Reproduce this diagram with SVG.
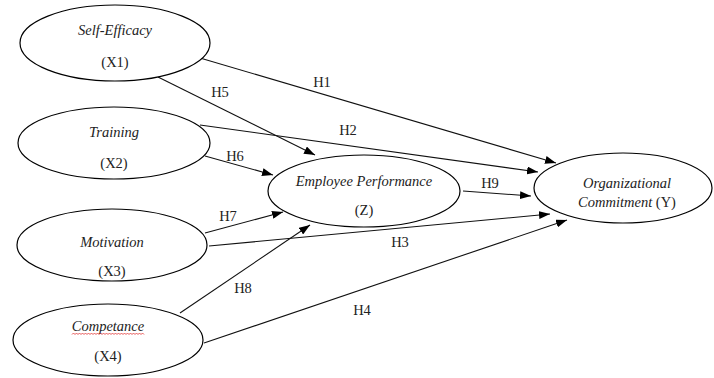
<svg xmlns="http://www.w3.org/2000/svg" width="714" height="378" viewBox="0 0 714 378">
<style>
.n{fill:#fff;stroke:#000;stroke-width:1.2}
.t{font-family:"Liberation Serif","Times New Roman",serif;font-size:14.5px;font-style:italic;fill:#222;text-anchor:middle}
.r{font-family:"Liberation Serif","Times New Roman",serif;font-size:14.5px;fill:#222;text-anchor:middle}
.c{stroke:#111;stroke-width:1.1;fill:none;marker-end:url(#ah)}
</style>
<defs>
<marker id="ah" markerUnits="userSpaceOnUse" markerWidth="11" markerHeight="8" refX="11" refY="4" orient="auto">
<path d="M0,0 L11,4 L0,8 z" fill="#000"/>
</marker>
</defs>
<rect width="714" height="378" fill="#fff"/>
<g id="connectors">
<line class="c" x1="200" y1="58" x2="556" y2="163"/>
<line class="c" x1="158" y1="77" x2="315" y2="155"/>
<line class="c" x1="200" y1="125" x2="538" y2="172"/>
<line class="c" x1="205" y1="156" x2="273" y2="175"/>
<line class="c" x1="463" y1="191" x2="531" y2="196"/>
<line class="c" x1="205" y1="233" x2="283" y2="212"/>
<line class="c" x1="209" y1="246" x2="550" y2="214"/>
<line class="c" x1="180" y1="313" x2="310" y2="225"/>
<line class="c" x1="204" y1="343" x2="567" y2="220"/>
<text class="r" x="322" y="87">H1</text>
<text class="r" x="220" y="97">H5</text>
<text class="r" x="348" y="135">H2</text>
<text class="r" x="235" y="161">H6</text>
<text class="r" x="490" y="188">H9</text>
<text class="r" x="228" y="221">H7</text>
<text class="r" x="400" y="247">H3</text>
<text class="r" x="243" y="293">H8</text>
<text class="r" x="362" y="315">H4</text>
</g>
<g id="x1">
<ellipse class="n" cx="115" cy="43" rx="95" ry="38"/>
<text class="t" x="115" y="35">Self-Efficacy</text>
<text class="r" x="115" y="67">(X1)</text>
</g>
<g id="x2">
<ellipse class="n" cx="114" cy="143" rx="96" ry="36"/>
<text class="t" x="114" y="137">Training</text>
<text class="r" x="114" y="168">(X2)</text>
</g>
<g id="x3">
<ellipse class="n" cx="112" cy="245" rx="95" ry="36"/>
<text class="t" x="112" y="247">Motivation</text>
<text class="r" x="112" y="276">(X3)</text>
</g>
<g id="x4">
<ellipse class="n" cx="108" cy="340" rx="95" ry="36"/>
<text class="t" x="108" y="331">Competance</text>
<path d="M72,334.5 l1.5,-1.5 l1.5,1.5 l1.5,-1.5 l1.5,1.5 l1.5,-1.5 l1.5,1.5 l1.5,-1.5 l1.5,1.5 l1.5,-1.5 l1.5,1.5 l1.5,-1.5 l1.5,1.5 l1.5,-1.5 l1.5,1.5 l1.5,-1.5 l1.5,1.5 l1.5,-1.5 l1.5,1.5 l1.5,-1.5 l1.5,1.5 l1.5,-1.5 l1.5,1.5 l1.5,-1.5 l1.5,1.5 l1.5,-1.5 l1.5,1.5 l1.5,-1.5 l1.5,1.5 l1.5,-1.5 l1.5,1.5 l1.5,-1.5 l1.5,1.5 l1.5,-1.5 l1.5,1.5 l1.5,-1.5 l1.5,1.5 l1.5,-1.5 l1.5,1.5 l1.5,-1.5 l1.5,1.5 l1.5,-1.5 l1.5,1.5 l1.5,-1.5 l1.5,1.5 l1.5,-1.5 l1.5,1.5 l1.5,-1.5 l1.5,1.5" fill="none" stroke="#e03030" stroke-width="0.8"/>
<text class="r" x="108" y="361">(X4)</text>
</g>
<g id="z">
<ellipse class="n" cx="364" cy="191" rx="96" ry="36"/>
<text class="t" x="364" y="186">Employee Performance</text>
<text class="r" x="364" y="215">(Z)</text>
</g>
<g id="y">
<ellipse class="n" cx="623" cy="188" rx="89" ry="35"/>
<text class="t" x="627" y="188">Organizational</text>
<text class="t" x="627" y="207">Commitment <tspan font-style="normal">(Y)</tspan></text>
</g>
</svg>
